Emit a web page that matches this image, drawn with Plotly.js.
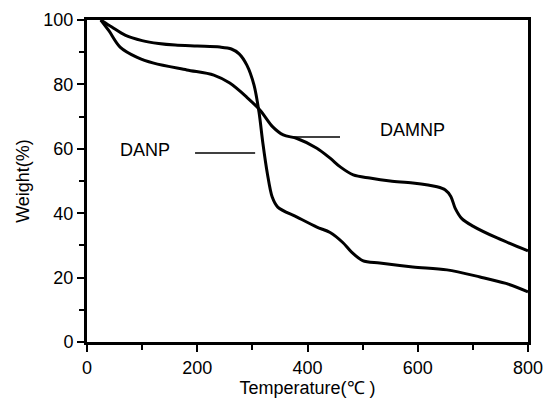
<!DOCTYPE html>
<html><head><meta charset="utf-8">
<script src="https://cdn.plot.ly/plotly-3.0.1.min.js"></script>
<style>html,body{margin:0;padding:0;background:#fff}#chart{width:544px;height:399px}</style>
</head><body><div id="chart"></div>
<script>
const danpTemp = [25, 45, 70, 100, 130, 160, 200, 241, 262, 276, 290, 303, 312, 319, 327, 336, 346, 381, 417, 441, 464, 480, 500, 531, 591, 653, 713, 760, 800];
const danpWeight = [100, 97.8, 95.2, 93.6, 92.7, 92.2, 91.9, 91.6, 91.0, 89.5, 86, 79.8, 71.4, 61.8, 52.5, 45, 41.9, 38.8, 35.7, 34.0, 30.9, 27.9, 25.3, 24.5, 23.3, 22.4, 20.2, 18.2, 15.6];
const damnpTemp = [25, 40, 60, 91, 121, 181, 230, 259, 290, 314, 337, 356, 381, 417, 441, 460, 483, 513, 550, 591, 635, 650, 660, 668, 680, 700, 744, 800];
const damnpWeight = [100, 96.6, 91.6, 88.4, 86.6, 84.5, 82.9, 80.4, 76, 72, 66.8, 64.3, 63.2, 60.2, 57.1, 54.3, 51.9, 50.9, 50.0, 49.4, 48.2, 47.2, 45.2, 41.5, 38.3, 36.0, 32.3, 28.3];
const seriesNames = ["DANP", "DAMNP"];

const font = {family: "Liberation Sans, Arial, sans-serif", size: 18, color: "#000"};
const traces = [
  {x: danpTemp, y: danpWeight, name: seriesNames[0], mode: "lines", line: {color: "#000", width: 3, shape: "spline", smoothing: 0.9}},
  {x: damnpTemp, y: damnpWeight, name: seriesNames[1], mode: "lines", line: {color: "#000", width: 3, shape: "spline", smoothing: 0.9}}
];
const layout = {
  width: 544, height: 399,
  margin: {l: 87, r: 16, t: 20, b: 57},
  paper_bgcolor: "#fff", plot_bgcolor: "#fff",
  showlegend: false,
  font: font,
  xaxis: {
    range: [0, 800], dtick: 200, tick0: 0,
    showgrid: false, zeroline: false,
    showline: true, linewidth: 3, linecolor: "#000", mirror: true,
    ticks: "outside", ticklen: 7, tickwidth: 2, tickcolor: "#000",
    minor: {dtick: 100, ticks: "outside", ticklen: 5, tickwidth: 2, tickcolor: "#000", showgrid: false},
    tickfont: {size: 18},
    title: {text: "Temperature(℃ )", font: {size: 18}, standoff: 0}
  },
  yaxis: {
    range: [0, 100], dtick: 20, tick0: 0,
    showgrid: false, zeroline: false,
    showline: true, linewidth: 3, linecolor: "#000", mirror: true,
    ticks: "outside", ticklen: 7, tickwidth: 2, tickcolor: "#000",
    minor: {dtick: 10, ticks: "outside", ticklen: 5, tickwidth: 2, tickcolor: "#000", showgrid: false},
    tickfont: {size: 18},
    title: {text: "Weight(%)", font: {size: 18}, standoff: 10}
  },
  annotations: [
    {x: 105, y: 59.6, xref: "x", yref: "y", text: seriesNames[0], showarrow: false, font: {size: 18}},
    {x: 590, y: 65.8, xref: "x", yref: "y", text: seriesNames[1], showarrow: false, font: {size: 18}}
  ],
  shapes: [
    {type: "line", xref: "x", yref: "y", x0: 196, x1: 305, y0: 58.7, y1: 58.7, line: {color: "#000", width: 1.5}},
    {type: "line", xref: "x", yref: "y", x0: 372, x1: 459, y0: 63.7, y1: 63.7, line: {color: "#000", width: 1.5}}
  ]
};
Plotly.newPlot("chart", traces, layout, {displayModeBar: false, staticPlot: true});
</script></body></html>
